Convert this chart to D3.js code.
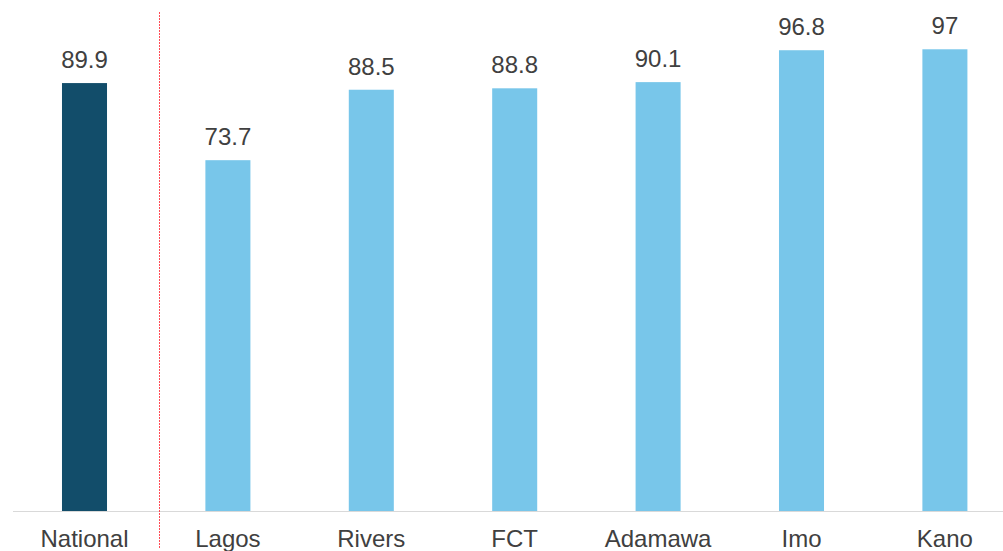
<!DOCTYPE html>
<html>
<head>
<meta charset="utf-8">
<script src="https://cdn.jsdelivr.net/npm/d3@7"></script>
<style>
  html, body { margin: 0; padding: 0; background: #fff; }
  svg { display: block; font-family: "Liberation Sans", Arial, sans-serif; }
</style>
</head>
<body>
<svg id="chart" width="1003" height="551"></svg>
<script>
// Categories and values
const categories = ["National", "Lagos", "Rivers", "FCT", "Adamawa", "Imo", "Kano"];
const values = [89.9, 73.7, 88.5, 88.8, 90.1, 96.8, 97];
const valueLabels = ["89.9", "73.7", "88.5", "88.8", "90.1", "96.8", "97"];

const svg = d3.select("#chart");
const baseY = 511;

const x = d3.scaleBand()
  .domain(categories)
  .range([12.8, 1016.6])
  .paddingInner(0.686)
  .paddingOuter(0.343);

const y = d3.scaleLinear()
  .domain([0, 100])
  .range([baseY, 35]);

const colorFor = c => c === "National" ? "#124d6a" : "#78c6ea";

// Bars
svg.append("g").selectAll("rect")
  .data(categories)
  .join("rect")
  .attr("x", c => x(c))
  .attr("y", (c, i) => y(values[i]))
  .attr("width", x.bandwidth())
  .attr("height", (c, i) => y(0) - y(values[i]))
  .attr("fill", colorFor);

// Baseline
svg.append("line")
  .attr("x1", 13).attr("x2", 1003)
  .attr("y1", baseY + 0.5).attr("y2", baseY + 0.5)
  .attr("stroke", "#d9d9d9")
  .attr("stroke-width", 1);

// Separator between national figure and states
const sepX = x("Lagos") - x.step() * 0.32;
svg.append("line")
  .attr("x1", Math.round(sepX) + 0.5).attr("x2", Math.round(sepX) + 0.5)
  .attr("y1", 12).attr("y2", 548)
  .attr("stroke", "#ff1f2a")
  .attr("stroke-opacity", 0.8)
  .attr("stroke-width", 1)
  .attr("stroke-dasharray", "2 1");

// Value labels
svg.append("g").selectAll("text")
  .data(categories)
  .join("text")
  .attr("x", c => x(c) + x.bandwidth() / 2)
  .attr("y", (c, i) => y(values[i]) - 15)
  .attr("text-anchor", "middle")
  .attr("font-size", 24)
  .attr("fill", "#404040")
  .text((c, i) => valueLabels[i]);

// Category labels
svg.append("g").selectAll("text")
  .data(categories)
  .join("text")
  .attr("x", c => x(c) + x.bandwidth() / 2)
  .attr("y", 547)
  .attr("text-anchor", "middle")
  .attr("font-size", 24)
  .attr("fill", "#404040")
  .text(c => c);
</script>
</body>
</html>
